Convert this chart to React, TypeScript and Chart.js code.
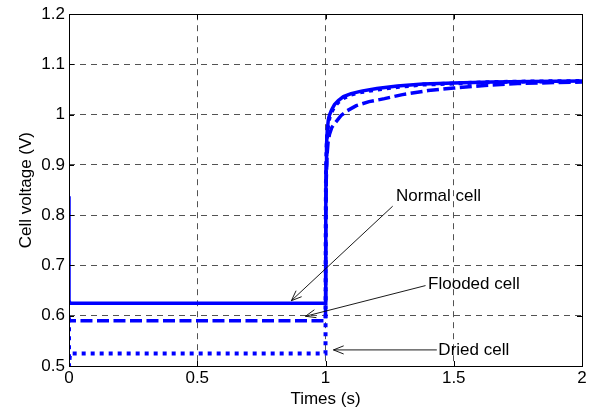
import React, { useEffect, useRef } from "react";
import { Chart, registerables } from "chart.js";

Chart.register(...registerables);

const FONT = "'Liberation Sans', Arial, Helvetica, sans-serif";

// Normal cell
const normalTime = [0, 0, 0.004, 0.998, 1.0, 1.001, 1.002, 1.004, 1.007, 1.011, 1.016, 1.024, 1.035, 1.05, 1.07, 1.1, 1.14, 1.2, 1.28, 1.38, 1.5, 1.65, 1.8, 2.0];
const normalVolt = [0.838, 0.63, 0.625, 0.625, 0.625, 0.8, 0.9, 0.94, 0.97, 0.99, 1.0, 1.01, 1.02, 1.028, 1.036, 1.042, 1.047, 1.052, 1.057, 1.061, 1.063, 1.065, 1.066, 1.067];

// Flooded cell
const floodedTime = [0, 0, 0.004, 0.99, 1.0, 1.001, 1.003, 1.006, 1.01, 1.016, 1.025, 1.04, 1.06, 1.085, 1.12, 1.17, 1.23, 1.3, 1.4, 1.5, 1.62, 1.75, 1.9, 2.0];
const floodedVolt = [0.6, 0.59, 0.59, 0.59, 0.59, 0.78, 0.87, 0.92, 0.945, 0.962, 0.975, 0.985, 0.998, 1.008, 1.018, 1.026, 1.032, 1.04, 1.048, 1.053, 1.058, 1.062, 1.064, 1.065];

// Dried cell
const driedTime = [0, 0, 0.004, 0.992, 1.0, 1.001, 1.002, 1.004, 1.007, 1.011, 1.016, 1.024, 1.035, 1.05, 1.07, 1.1, 1.14, 1.2, 1.28, 1.38, 1.5, 1.65, 1.8, 2.0];
const driedVolt = [0.595, 0.5, 0.525, 0.525, 0.525, 0.79, 0.885, 0.93, 0.962, 0.983, 0.995, 1.006, 1.016, 1.025, 1.033, 1.04, 1.045, 1.05, 1.055, 1.06, 1.062, 1.065, 1.066, 1.067];

const xTicks = [0, 0.5, 1, 1.5, 2];
const yTicks = [0.5, 0.6, 0.7, 0.8, 0.9, 1.0, 1.1, 1.2];

// Annotation labels: text, label anchor (t, V), arrow start (t, V), arrow tip (t, V)
const annoLabels = ["Normal cell", "Flooded cell", "Dried cell"];
const annoTextPos = [[1.275, 0.838], [1.4, 0.662], [1.44, 0.532]];
const annoArrowFrom = [[1.262, 0.818], [1.39, 0.66], [1.434, 0.532]];
const annoArrowTo = [[0.867, 0.63], [0.922, 0.599], [1.031, 0.532]];

const toXY = (t: number[], v: number[]) => t.map((x, i) => ({ x, y: v[i] }));

const framePlugin = {
  id: "frameAndNotes",
  afterDraw(chart: any) {
    const { ctx, chartArea: a, scales } = chart;
    const xs = scales.x;
    const ys = scales.y;
    ctx.save();
    ctx.setLineDash([]);
    ctx.strokeStyle = "#000";
    ctx.lineWidth = 1;
    ctx.strokeRect(Math.round(a.left) + 0.5, Math.round(a.top) + 0.5, Math.round(a.right - a.left), Math.round(a.bottom - a.top));
    const tl = 5;
    ctx.beginPath();
    xTicks.forEach((t) => {
      const px = Math.round(xs.getPixelForValue(t)) + 0.5;
      ctx.moveTo(px, a.bottom);
      ctx.lineTo(px, a.bottom - tl);
      ctx.moveTo(px, a.top);
      ctx.lineTo(px, a.top + tl);
    });
    yTicks.forEach((v) => {
      const py = Math.round(ys.getPixelForValue(v)) + 0.5;
      ctx.moveTo(a.left, py);
      ctx.lineTo(a.left + tl, py);
      ctx.moveTo(a.right, py);
      ctx.lineTo(a.right - tl, py);
    });
    ctx.stroke();

    // annotations
    ctx.font = `17px ${FONT}`;
    ctx.fillStyle = "#000";
    ctx.textBaseline = "middle";
    ctx.textAlign = "left";
    ctx.lineWidth = 0.9;
    annoLabels.forEach((label, i) => {
      const tx = xs.getPixelForValue(annoTextPos[i][0]);
      const ty = ys.getPixelForValue(annoTextPos[i][1]);
      ctx.fillText(label, tx, ty);
      const x0 = xs.getPixelForValue(annoArrowFrom[i][0]);
      const y0 = ys.getPixelForValue(annoArrowFrom[i][1]);
      const x1 = xs.getPixelForValue(annoArrowTo[i][0]);
      const y1 = ys.getPixelForValue(annoArrowTo[i][1]);
      ctx.beginPath();
      ctx.moveTo(x0, y0);
      ctx.lineTo(x1, y1);
      const ang = Math.atan2(y1 - y0, x1 - x0);
      const hl = 11;
      const ha = 0.38;
      ctx.moveTo(x1, y1);
      ctx.lineTo(x1 - hl * Math.cos(ang - ha), y1 - hl * Math.sin(ang - ha));
      ctx.moveTo(x1, y1);
      ctx.lineTo(x1 - hl * Math.cos(ang + ha), y1 - hl * Math.sin(ang + ha));
      ctx.stroke();
    });
    ctx.restore();
  },
};

export default function App() {
  const ref = useRef<HTMLCanvasElement>(null);
  useEffect(() => {
    document.body.style.margin = "0";
    const chart = new Chart(ref.current!, {
      type: "line",
      data: {
        datasets: [
          {
            label: "Normal cell",
            data: toXY(normalTime, normalVolt),
            borderColor: "#0000ff",
            borderWidth: 3.5,
            pointRadius: 0,
            fill: false,
          },
          {
            label: "Flooded cell",
            data: toXY(floodedTime, floodedVolt),
            borderColor: "#0000ff",
            borderWidth: 3.5,
            borderDash: [12, 4.5],
            pointRadius: 0,
            fill: false,
          },
          {
            label: "Dried cell",
            data: toXY(driedTime, driedVolt),
            borderColor: "#0000ff",
            borderWidth: 4,
            borderDash: [4, 5],
            pointRadius: 0,
            fill: false,
          },
        ],
      },
      options: {
        animation: false,
        responsive: false,
        devicePixelRatio: 1,
        layout: { padding: { top: 12, right: 7, left: 0, bottom: 0 } },
        plugins: { legend: { display: false }, tooltip: { enabled: false } },
        scales: {
          x: {
            type: "linear",
            min: 0,
            max: 2,
            afterBuildTicks: (s: any) => {
              s.ticks = xTicks.map((v) => ({ value: v }));
            },
            afterFit: (s: any) => {
              s.height = 46;
            },
            ticks: {
              color: "#000",
              font: { family: FONT, size: 17 },
              padding: 2,
              maxRotation: 0,
              callback: (v: any) => String(v),
            },
            grid: { color: "rgba(0,0,0,0.85)", lineWidth: 0.8, drawTicks: false },
            border: { display: false, dash: [6, 5] },
            title: {
              display: true,
              text: "Times (s)",
              color: "#000",
              font: { family: FONT, size: 17 },
              padding: { top: 0, bottom: 2 },
            },
          },
          y: {
            type: "linear",
            min: 0.5,
            max: 1.2,
            afterBuildTicks: (s: any) => {
              s.ticks = yTicks.map((v) => ({ value: v }));
            },
            afterFit: (s: any) => {
              s.width = 69;
            },
            ticks: {
              color: "#000",
              font: { family: FONT, size: 17 },
              padding: 4,
              callback: (v: any) => String(Math.round(Number(v) * 10) / 10),
            },
            grid: { color: "rgba(0,0,0,0.85)", lineWidth: 0.8, drawTicks: false },
            border: { display: false, dash: [6, 5] },
            title: {
              display: true,
              text: "Cell voltage (V)",
              color: "#000",
              font: { family: FONT, size: 17 },
              padding: { top: 16, bottom: 0 },
            },
          },
        },
      },
      plugins: [framePlugin],
    });
    return () => chart.destroy();
  }, []);
  return (
    <div style={{ width: 589, height: 412 }}>
      <canvas ref={ref} width={589} height={412} style={{ display: "block" }} />
    </div>
  );
}
